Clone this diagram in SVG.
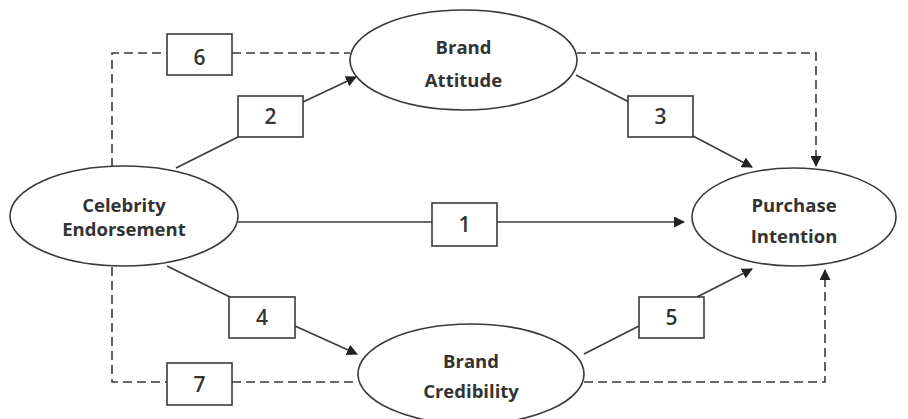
<svg xmlns="http://www.w3.org/2000/svg" width="908" height="419" viewBox="0 0 908 419">
<style>
.node{fill:#fff;stroke:#3a3a3a;stroke-width:1.6}
.box{fill:#fff;stroke:#3a3a3a;stroke-width:1.6}
.lbl{font-family:"Open Sans","Liberation Sans",sans-serif;font-weight:bold;font-size:18.5px;fill:#333;text-anchor:middle}
.num{font-family:"Open Sans","Liberation Sans",sans-serif;font-weight:600;font-size:21px;fill:#333;text-anchor:middle}
.ln{fill:none;stroke:#3a3a3a;stroke-width:1.6}
.dash{fill:none;stroke:#3a3a3a;stroke-width:1.6;stroke-dasharray:9,5}
</style>
<defs>
<marker id="ah" markerWidth="11" markerHeight="11" refX="10" refY="5.5" orient="auto" markerUnits="userSpaceOnUse">
<path d="M0,0 L11,5.5 L0,11 z" fill="#222"/>
</marker>
</defs>
<rect width="908" height="419" fill="#fff"/>
<g id="connectors">
<path class="dash" d="M112,167 V53 H167"/>
<path class="dash" d="M232,53 H350"/>
<path class="dash" d="M577,53 H816 V166" marker-end="url(#ah)"/>
<path class="dash" d="M112,267 V382 H167"/>
<path class="dash" d="M232,382 H358"/>
<path class="dash" d="M584,382 H825 V270" marker-end="url(#ah)"/>
<path class="ln" d="M238,222 H432"/>
<path class="ln" d="M497,222 H684" marker-end="url(#ah)"/>
<path class="ln" d="M176,168 L238,137"/>
<path class="ln" d="M303,102 L356,77" marker-end="url(#ah)"/>
<path class="ln" d="M576,75 L629,102"/>
<path class="ln" d="M693,136 L752,167" marker-end="url(#ah)"/>
<path class="ln" d="M167,266 L230,297"/>
<path class="ln" d="M295,326 L357,354" marker-end="url(#ah)"/>
<path class="ln" d="M584,354 L639,326"/>
<path class="ln" d="M697,297 L752,269" marker-end="url(#ah)"/>
</g>
<g id="box1"><rect class="box" x="432" y="203" width="65" height="43"/><text class="num" x="464.5" y="232">1</text></g>
<g id="box2"><rect class="box" x="238" y="96" width="65" height="41"/><text class="num" x="270.5" y="124">2</text></g>
<g id="box3"><rect class="box" x="628" y="96" width="65" height="41"/><text class="num" x="660.5" y="124">3</text></g>
<g id="box4"><rect class="box" x="229" y="297" width="66" height="41"/><text class="num" x="262" y="325">4</text></g>
<g id="box5"><rect class="box" x="639" y="297" width="65" height="41"/><text class="num" x="671.5" y="325">5</text></g>
<g id="box6"><rect class="box" x="167" y="34" width="65" height="41"/><text class="num" x="199.5" y="65">6</text></g>
<g id="box7"><rect class="box" x="167" y="363" width="65" height="42"/><text class="num" x="199.5" y="392">7</text></g>
<g id="celebrity-endorsement"><ellipse class="node" cx="124" cy="216" rx="114" ry="50"/><text class="lbl" x="124" y="212">Celebrity</text><text class="lbl" x="124" y="236">Endorsement</text></g>
<g id="brand-attitude"><ellipse class="node" cx="463.5" cy="60" rx="113.5" ry="50"/><text class="lbl" x="463.5" y="54">Brand</text><text class="lbl" x="463.5" y="87">Attitude</text></g>
<g id="purchase-intention"><ellipse class="node" cx="794" cy="217" rx="102" ry="49"/><text class="lbl" x="794" y="212">Purchase</text><text class="lbl" x="794" y="243">Intention</text></g>
<g id="brand-credibility"><ellipse class="node" cx="471" cy="374" rx="113" ry="50"/><text class="lbl" x="471" y="368">Brand</text><text class="lbl" x="471" y="398">Credibility</text></g>
</svg>
